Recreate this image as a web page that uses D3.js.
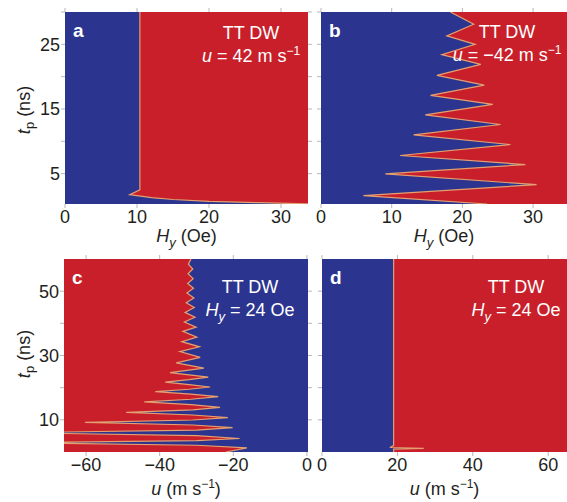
<!DOCTYPE html>
<html>
<head>
<meta charset="utf-8">
<script src="https://cdn.jsdelivr.net/npm/d3@7"></script>
<style>
  body { margin: 0; background: #fff; }
  text { font-family: "Liberation Sans", Arial, sans-serif; fill: #231f20; }
</style>
</head>
<body>
<svg id="chart" width="567" height="502"></svg>
<script>
// boundary between the two domains (time in ns)
const aTp = [0.3, 0.5, 0.7, 1.0, 1.3, 1.75, 2.5, 30];
const aHy = [34, 27, 20, 15, 12, 9.0, 10.4, 10.4];

const bTp = [0.3, 1.6, 3.3, 4.95, 6.4, 7.8, 9.5, 11.0, 12.6, 14.1, 15.7, 17.1, 18.7, 20.2, 21.9, 23.4, 25.0, 26.3, 28.1, 30];
const bHy = [23.5, 6.0, 30.5, 9.1, 28.9, 11.2, 26.8, 13.1, 25.4, 14.75, 24.3, 15.5, 23.1, 16.4, 22.6, 17.1, 21.8, 17.8, 21.6, 18.3];

const cTp = [0, 1.3, 2.1, 2.9, 3.55, 4.2, 5.1, 6.0, 6.8, 7.6, 8.4, 9.2, 9.95, 10.7, 11.5, 12.3, 13.1, 13.9, 14.75, 15.6,
  16.4, 17.2, 18.0, 18.8, 19.5, 20.2, 20.95, 21.7, 22.5, 23.3, 24.0, 24.7, 26.1, 27.7, 29.4,
  31.2, 32.7, 34.3, 35.7, 37.5, 38.8, 40.4, 41.9, 43.4, 44.9, 46.4, 47.9, 49.4, 50.9, 52.4, 53.9, 55.4, 56.9, 58.4, 60];
const cU = [-22, -16.3, -30, -80, -30, -18.3, -30, -80, -30, -20.2, -31, -60.3, -31, -21.5, -31, -49.1, -31, -23.6, -31.5, -44.2,
  -31.5, -24.1, -31.5, -41.2, -32, -26.3, -32, -38.5, -32, -26.8, -32, -37.2, -28, -35.5, -29,
  -34.5, -29.2, -34, -29.9, -33.7, -30.1, -33.3, -30.4, -33.1, -30.6, -32.8, -30.7, -32.6, -30.8, -32.4, -30.9, -32.3, -31, -32.2, -31.5];

const dTp = [0, 0.9, 1.1, 1.4, 2.0, 60];
const dU = [19, 19, 27, 18, 19, 19];

// ticks
const topXTicks = [0, 10, 20, 30];
const topYTicks = [5, 10, 15, 20, 25, 30];
const topYLabels = [5, 15, 25];
const cXTicks = [-60, -40, -20, 0];
const dXTicks = [0, 20, 40, 60];
const botYTicks = [10, 20, 30, 40, 50];
const botYLabels = [10, 30, 50];

const BLUE = "#2b358f", RED = "#c81f2a", EDGE = "#e3a070", TICK = "#b8b8b8";

const svg = d3.select("#chart");

const panels = [
  { id: "a", x: [65, 308], y: [204, 12], xd: [0, 33.75], yd: [0.3, 30], t: aTp, v: aHy, left: BLUE, right: RED,
    xt: topXTicks, yt: topYTicks, yl: topYLabels, label: "u = 42", cx: 251, base: 39 },
  { id: "b", x: [321, 567], y: [204, 12], xd: [0, 34.8], yd: [0.3, 30], t: bTp, v: bHy, left: BLUE, right: RED,
    xt: topXTicks, yt: topYTicks, yl: null, label: "u = \u221242", cx: 507, base: 38 },
  { id: "c", x: [64, 308], y: [452, 259], xd: [-66, 0.3], yd: [0, 60], t: cTp, v: cU, left: RED, right: BLUE,
    xt: cXTicks, yt: botYTicks, yl: botYLabels, label: "H", cx: 250, base: 293 },
  { id: "d", x: [322, 567], y: [452, 259], xd: [0, 65], yd: [0, 60], t: dTp, v: dU, left: BLUE, right: RED,
    xt: dXTicks, yt: botYTicks, yl: null, label: "H", cx: 516, base: 293 }
];

panels.forEach(p => {
  const x = d3.scaleLinear().domain(p.xd).range(p.x);
  const y = d3.scaleLinear().domain(p.yd).range(p.y);
  const pts = p.t.map((t, i) => [t, p.v[i]]);
  const w = p.x[1] - p.x[0], h = p.y[0] - p.y[1];

  svg.append("clipPath").attr("id", "clip-" + p.id)
    .append("rect").attr("x", p.x[0]).attr("y", p.y[1]).attr("width", w).attr("height", h);

  const g = svg.append("g").attr("clip-path", `url(#clip-${p.id})`);
  g.append("rect").attr("x", p.x[0]).attr("y", p.y[1]).attr("width", w).attr("height", h).attr("fill", p.left);

  g.append("path")
    .datum(pts)
    .attr("fill", p.right)
    .attr("d", d3.area().y(d => y(d[0])).x0(d => x(d[1])).x1(p.x[1] + 5));

  g.append("path")
    .datum(pts)
    .attr("fill", "none")
    .attr("stroke", EDGE)
    .attr("stroke-width", 1.2)
    .attr("d", d3.line().y(d => y(d[0])).x(d => x(d[1])));

  // outward ticks on all four sides
  const tk = svg.append("g").attr("stroke", TICK).attr("stroke-width", 1);
  p.xt.forEach(v => {
    tk.append("line").attr("x1", x(v)).attr("x2", x(v)).attr("y1", p.y[0]).attr("y2", p.y[0] + 4);
    tk.append("line").attr("x1", x(v)).attr("x2", x(v)).attr("y1", p.y[1]).attr("y2", p.y[1] - 4);
  });
  p.yt.forEach(v => {
    tk.append("line").attr("y1", y(v)).attr("y2", y(v)).attr("x1", p.x[0]).attr("x2", p.x[0] - 4);
    tk.append("line").attr("y1", y(v)).attr("y2", y(v)).attr("x1", p.x[1]).attr("x2", p.x[1] + 4);
  });

  svg.append("g").selectAll("text").data(p.xt).join("text")
    .attr("x", d => x(d)).attr("y", p.y[0] + 18.5)
    .attr("text-anchor", "middle").attr("font-size", 18)
    .text(d => d < 0 ? "\u2212" + Math.abs(d) : d);

  if (p.yl) {
    svg.append("g").selectAll("text").data(p.yl).join("text")
      .attr("x", p.x[0] - 5).attr("y", d => y(d)).attr("dy", "0.36em")
      .attr("text-anchor", "end").attr("font-size", 18)
      .text(d => d);
  }

  // panel letter
  svg.append("text").attr("x", p.x[0] + 8).attr("y", p.y[1] + 25)
    .attr("font-size", 19).attr("font-weight", "bold").style("fill", "#fff").text(p.id);

  // annotation
  const ann = svg.append("g").style("font-size", "18px");
  ann.append("text").attr("x", p.cx).attr("y", p.base).attr("text-anchor", "middle")
    .style("fill", "#fff").text("TT DW");
  const l2 = ann.append("text").attr("x", p.cx).attr("y", p.base + 23).attr("text-anchor", "middle").style("fill", "#fff");
  if (p.label === "H") {
    l2.append("tspan").attr("font-style", "italic").text("H");
    l2.append("tspan").attr("font-style", "italic").attr("font-size", 13).attr("dy", 5).text("y");
    l2.append("tspan").attr("dy", -5).text(" = 24 Oe");
  } else {
    l2.append("tspan").attr("font-style", "italic").text("u");
    l2.append("tspan").text(p.label.slice(1) + " m s");
    l2.append("tspan").attr("font-size", 12).attr("dy", -7).text("\u22121");
  }

  // x-axis title
  const xt = svg.append("text").attr("x", (p.x[0] + p.x[1]) / 2).attr("text-anchor", "middle").attr("font-size", 18);
  if (p.id === "a" || p.id === "b") {
    xt.attr("y", 242);
    xt.append("tspan").attr("font-style", "italic").text("H");
    xt.append("tspan").attr("font-style", "italic").attr("font-size", 13).attr("dy", 5).text("y");
    xt.append("tspan").attr("dy", -5).text(" (Oe)");
  } else {
    xt.attr("y", 495);
    xt.append("tspan").attr("font-style", "italic").text("u");
    xt.append("tspan").text(" (m s");
    xt.append("tspan").attr("font-size", 12).attr("dy", -7).text("\u22121");
    xt.append("tspan").attr("dy", 7).text(")");
  }

  // y-axis title
  if (p.yl) {
    const cy = p.id === "a" ? 110 : 354;
    const yt = svg.append("text").attr("transform", `translate(30,${cy}) rotate(-90)`)
      .attr("text-anchor", "middle").attr("font-size", 18);
    yt.append("tspan").attr("font-style", "italic").text("t");
    yt.append("tspan").attr("font-size", 13).attr("dy", 4).text("p");
    yt.append("tspan").attr("dy", -4).text(" (ns)");
  }
});
</script>
</body>
</html>
